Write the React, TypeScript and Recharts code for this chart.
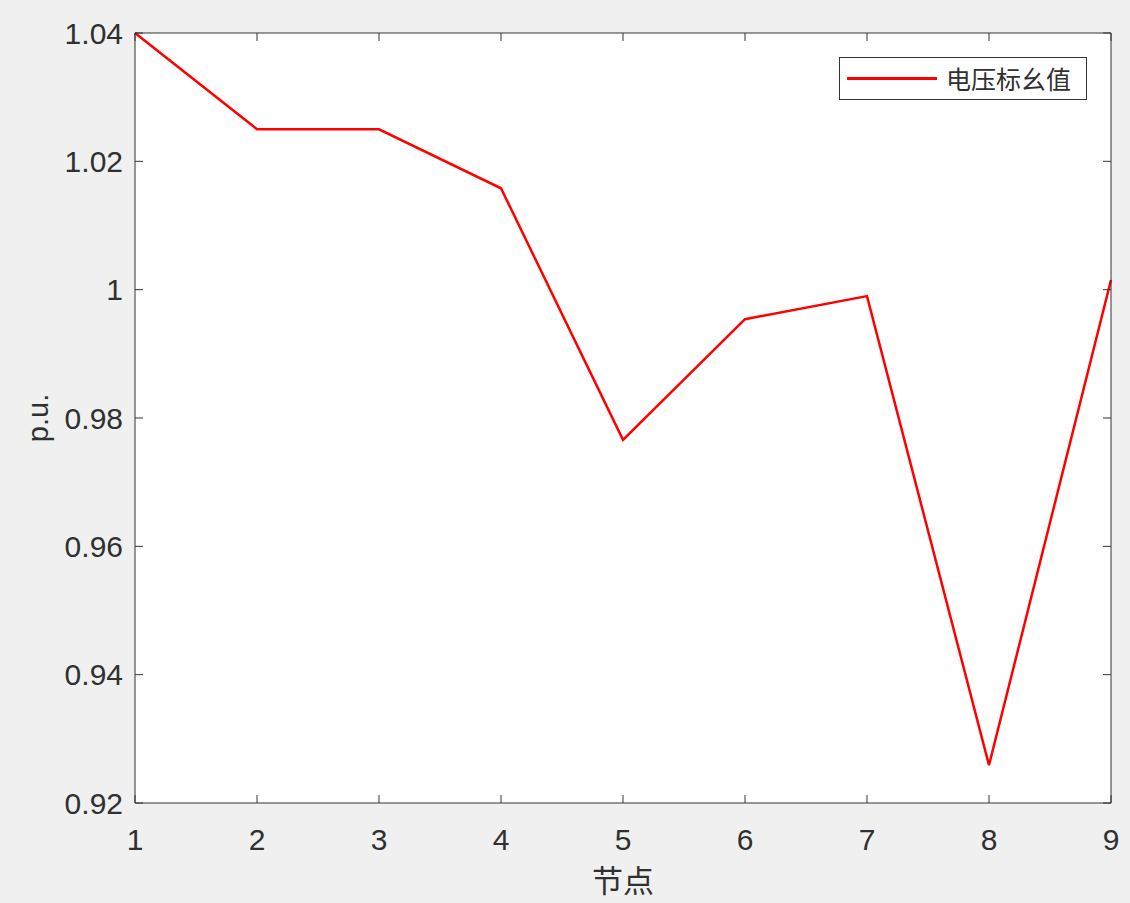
import React from 'react';
import { LineChart, Line, XAxis, YAxis, CartesianGrid, Legend, Label } from 'recharts';

// 节点电压标幺值
const nodes = [1, 2, 3, 4, 5, 6, 7, 8, 9];
const voltage = [1.04, 1.025, 1.025, 1.0158, 0.9766, 0.9954, 0.999, 0.9259, 1.0015];
const xTicks = [1, 2, 3, 4, 5, 6, 7, 8, 9];
const yTicks = [0.92, 0.94, 0.96, 0.98, 1, 1.02, 1.04];
const seriesName = '电压标幺值';

const FONT = '"Liberation Sans", Arial, "Noto Sans CJK SC", sans-serif';
const CJK = '"Noto Sans CJK SC", sans-serif';
const AXIS_COLOR = '#333333';
const TEXT_COLOR = '#303030';
const X_MARGIN = 23;
const Y_MARGIN = 11;
const TICK_LEN = 8;
// tickSize=0 会被当成默认值，所以统一用 1
const TS = 1;

const chartData = nodes.map((n, i) => ({ node: n, v: voltage[i] }));

// 刻度线朝内（MATLAB 风格）
const XTick = (props: any) => {
  const { x, y, payload } = props;
  const axisY = y - X_MARGIN - TS;
  return (
    <g>
      <line x1={x} x2={x} y1={axisY} y2={axisY - TICK_LEN} stroke={AXIS_COLOR} />
      <text x={x} y={y} dy="0.75em" textAnchor="middle" fill={TEXT_COLOR} fontSize={30} fontFamily={FONT}>
        {payload.value}
      </text>
    </g>
  );
};

const YTick = (props: any) => {
  const { x, y, payload } = props;
  const axisX = x + Y_MARGIN + TS;
  return (
    <g>
      <line x1={axisX} x2={axisX + TICK_LEN} y1={y} y2={y} stroke={AXIS_COLOR} />
      <text x={x} y={y} dy="0.36em" textAnchor="end" fill={TEXT_COLOR} fontSize={30} fontFamily={FONT}>
        {String(+Number(payload.value).toFixed(2))}
      </text>
    </g>
  );
};

const TopTick = (props: any) => {
  const { x, y } = props;
  const axisY = y + TS;
  return <line x1={x} x2={x} y1={axisY} y2={axisY + TICK_LEN} stroke={AXIS_COLOR} />;
};

const RightTick = (props: any) => {
  const { x, y } = props;
  const axisX = x - TS;
  return <line x1={axisX} x2={axisX - TICK_LEN} y1={y} y2={y} stroke={AXIS_COLOR} />;
};

const LegendBox = () => (
  <div
    style={{
      boxSizing: 'border-box',
      width: 248,
      height: 43,
      border: '1.5px solid #333',
      background: '#fff',
      display: 'flex',
      alignItems: 'center',
    }}
  >
    <div style={{ width: 90, height: 2.5, background: '#ff0000', marginLeft: 7, marginRight: 9 }} />
    <span style={{ fontSize: 25, color: TEXT_COLOR, fontFamily: CJK, lineHeight: 1 }}>{seriesName}</span>
  </div>
);

const App: React.FC = () => {
  return (
    <div style={{ position: 'absolute', left: 0, top: 0, width: 1130, height: 903, background: '#f0f0f0' }}>
      <LineChart width={1130} height={903} data={chartData} margin={{ top: 32, right: 18, bottom: 0, left: 0 }}>
        <CartesianGrid horizontal={false} vertical={false} fill="#ffffff" />
        <XAxis
          dataKey="node"
          type="number"
          domain={[1, 9]}
          ticks={xTicks}
          height={100}
          stroke={AXIS_COLOR}
          tickLine={false}
          tickSize={TS}
          tickMargin={X_MARGIN}
          tick={<XTick />}
        >
          <Label
            value="节点"
            position="insideBottom"
            offset={11}
            style={{ fill: TEXT_COLOR, fontSize: 31, fontFamily: CJK }}
          />
        </XAxis>
        <XAxis
          xAxisId="top"
          dataKey="node"
          type="number"
          orientation="top"
          domain={[1, 9]}
          ticks={xTicks}
          height={1}
          stroke={AXIS_COLOR}
          tickLine={false}
          tickSize={TS}
          tickMargin={0}
          tick={<TopTick />}
        />
        <YAxis
          type="number"
          domain={[0.92, 1.04]}
          ticks={yTicks}
          width={135}
          stroke={AXIS_COLOR}
          tickLine={false}
          tickSize={TS}
          tickMargin={Y_MARGIN}
          tick={<YTick />}
        >
          <Label
            value="p.u."
            angle={-90}
            position="insideLeft"
            offset={38}
            style={{ fill: TEXT_COLOR, fontSize: 29, fontFamily: FONT, textAnchor: 'middle' }}
          />
        </YAxis>
        <YAxis
          yAxisId="r"
          type="number"
          orientation="right"
          domain={[0.92, 1.04]}
          ticks={yTicks}
          width={1}
          stroke={AXIS_COLOR}
          tickLine={false}
          tickSize={TS}
          tickMargin={0}
          tick={<RightTick />}
        />
        <Legend
          layout="vertical"
          align="center"
          verticalAlign="middle"
          content={() => <LegendBox />}
          wrapperStyle={{ position: 'absolute', left: 839, top: 57, width: 248, height: 43 }}
        />
        <Line
          dataKey="v"
          name={seriesName}
          stroke="#ff0000"
          strokeWidth={2.5}
          dot={false}
          activeDot={false}
          isAnimationActive={false}
        />
        <Line
          dataKey="v"
          xAxisId="top"
          yAxisId="r"
          stroke="none"
          dot={false}
          activeDot={false}
          legendType="none"
          isAnimationActive={false}
        />
      </LineChart>
    </div>
  );
};

export default App;
